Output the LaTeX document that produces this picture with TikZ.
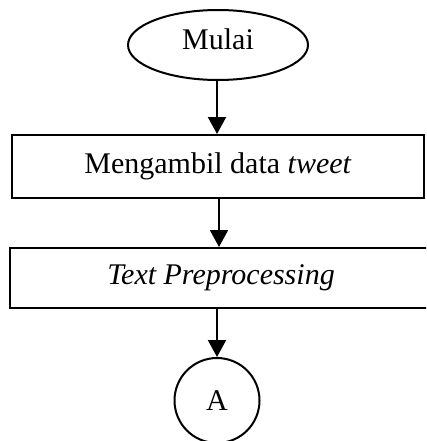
\documentclass[tikz,border=0pt]{standalone}
\usepackage{fontspec}
\setmainfont{Liberation Serif}
\usetikzlibrary{shapes.geometric,arrows.meta}
\begin{document}
\begin{tikzpicture}[x=1pt,y=1pt,
  every node/.style={font=\fontsize{30}{35}\selectfont, inner sep=0pt},
  proc/.style={draw, line width=2pt, rectangle},
  arr/.style={line width=2pt, -{Triangle[length=17pt,width=18pt]}}]
\clip (0,0) rectangle (426,-441);
\useasboundingbox (0,0) rectangle (426,-441);
\node[draw, line width=2pt, ellipse, minimum width=180pt, minimum height=70pt, text height=0.9em, text depth=0pt] (m) at (218,-45) {Mulai};
\node[proc, minimum width=412pt, minimum height=63pt] (b1) at (218,-166.5) {Mengambil data \textit{tweet}};
\node[proc, minimum width=422pt, minimum height=60pt] (b2) at (221,-278) {\textit{Text Preprocessing}};
\node[draw, line width=2pt, circle, minimum size=85pt] (a) at (217,-400.5) {A};
\draw[arr] ([xshift=-1pt]m.south) -- ([xshift=-1pt]m.south |- b1.north);
\draw[arr] ([xshift=1pt]b1.south) -- ([xshift=1pt]b1.south |- b2.north);
\draw[arr] (a.north |- b2.south) -- (a.north);
\end{tikzpicture}
\end{document}
